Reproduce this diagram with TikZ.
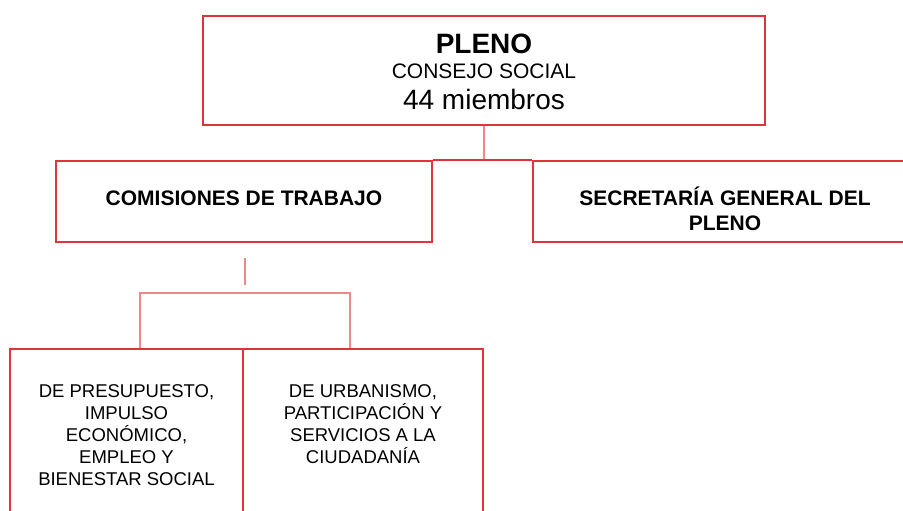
\documentclass[tikz,border=0pt]{standalone}
\usepackage{fontspec}
\setmainfont{Liberation Sans}
\usetikzlibrary{backgrounds}
\definecolor{boxred}{RGB}{222,52,60}
\definecolor{connpink}{RGB}{242,135,138}
\begin{document}
\begin{tikzpicture}[x=1pt,y=-1pt,
  box/.style={draw=boxred,line width=2.2pt,rectangle,inner sep=0pt},
  conn/.style={draw=connpink,line width=2pt},
  txt/.style={inner sep=0pt,anchor=base}]
\useasboundingbox (0,0) rectangle (903,511);
\clip (0,0) rectangle (903,511);
% boxes
\node[box,minimum width=562pt,minimum height=109pt] (pleno) at (484,70.5) {};
\node[box,minimum width=376pt,minimum height=81pt] (comis) at (244,201.5) {};
\node[box,minimum width=384pt,minimum height=81pt] (secre) at (725,201.5) {};
\node[box,minimum width=233pt,minimum height=191pt] (b1) at (126.5,444.5) {};
\node[box,minimum width=240pt,minimum height=191pt] (b2) at (363,444.5) {};
% texts
\node[txt,font=\fontsize{28}{32}\selectfont\bfseries] (t1) at (484,54) {PLENO};
\node[txt,font=\fontsize{21}{24}\selectfont] (t2) at (484,79) {CONSEJO SOCIAL};
\node[txt,font=\fontsize{28}{32}\selectfont] (t3) at (484,110) {44 miembros};
\node[txt,font=\fontsize{21}{24}\selectfont\bfseries] (t4) at (244,205) {COMISIONES DE TRABAJO};
\node[txt] (t5) at (725,205) {\parbox[t]{370pt}{\centering\fontsize{21}{25.5}\selectfont\bfseries SECRETARÍA GENERAL DEL\\ PLENO}};
\node[txt] (t6) at (126.5,397) {\parbox[t]{225pt}{\centering\fontsize{18.5}{22.2}\selectfont DE PRESUPUESTO,\\ IMPULSO\\ ECONÓMICO,\\ EMPLEO Y\\ BIENESTAR SOCIAL}};
\node[txt] (t7) at (363,397) {\parbox[t]{230pt}{\centering\fontsize{18.5}{22.2}\selectfont DE URBANISMO,\\ PARTICIPACIÓN Y\\ SERVICIOS A LA\\ CIUDADANÍA}};
% connectors
\coordinate (s1) at (245,258);
\coordinate (s2) at (245,285);
\coordinate (fork) at (245,293);
\begin{pgfonlayer}{background}
\draw[conn] (pleno.south) -- (pleno.south |- comis.north);
\draw[draw=boxred,line width=2.2pt] (comis.north east) -- (secre.north west);
\draw[conn] (s1) -- (s2);
\draw[conn] ([xshift=13.5pt]b1.north) |- (fork) -| ([xshift=-13pt]b2.north);
\end{pgfonlayer}
\end{tikzpicture}
\end{document}
